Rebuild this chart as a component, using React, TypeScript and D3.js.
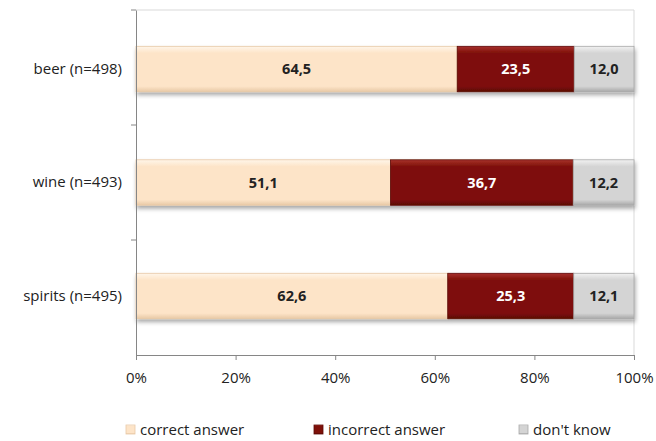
import { useRef, useEffect } from 'react'
import * as d3 from 'd3'

const categories = ['beer (n=498)', 'wine (n=493)', 'spirits (n=495)']
const seriesNames = ['correct answer', 'incorrect answer', "don't know"]
const correct = [64.5, 51.1, 62.6]
const incorrect = [23.5, 36.7, 25.3]
const dontKnow = [12.0, 12.2, 12.1]
const ticks = [0, 20, 40, 60, 80, 100]

const colors = ['#FDE4C8', '#7E1009', '#D4D4D4']
const lightC = ['#FFF6EA', '#A8322B', '#F2F2F2']
const darkC = ['#E8C9A6', '#5C0A05', '#A8A8A8']
const textColors = ['#222', '#fff', '#222']

const App = () => {
  const chartRef = useRef<SVGSVGElement>(null)

  useEffect(() => {
    drawChart()
  }, [])

  const drawChart = () => {
    const svg = d3.select(chartRef.current)
    svg.selectAll('*').remove()
    const font = "'Open Sans', 'Liberation Sans', sans-serif"
    const left = 136, right = 634, top = 10, bottom = 355

    const x = d3.scaleLinear().domain([0, 100]).range([left, right])
    const y = d3.scaleBand().domain(categories).range([top, bottom]).paddingInner(0.6).paddingOuter(0.32)

    const defs = svg.append('defs')
    colors.forEach((c, i) => {
      const g = defs.append('linearGradient').attr('id', `g${i}`).attr('x1', 0).attr('x2', 0).attr('y1', 0).attr('y2', 1)
      g.append('stop').attr('offset', '0%').attr('stop-color', lightC[i])
      g.append('stop').attr('offset', '15%').attr('stop-color', c)
      g.append('stop').attr('offset', '88%').attr('stop-color', c)
      g.append('stop').attr('offset', '100%').attr('stop-color', darkC[i])
    })
    const sh = defs.append('filter').attr('id', 'sh').attr('x', '-5%').attr('y', '-20%').attr('width', '110%').attr('height', '160%')
    sh.append('feDropShadow').attr('dx', 1).attr('dy', 3).attr('stdDeviation', 2).attr('flood-color', '#000').attr('flood-opacity', 0.35)

    // plot area border
    svg.append('path')
      .attr('d', `M${left},${top}H${right}V${bottom}`)
      .attr('fill', 'none').attr('stroke', '#d9d9d9')

    const rows = categories.map((c, i) => ({ cat: c, vals: [correct[i], incorrect[i], dontKnow[i]] }))

    rows.forEach((r) => {
      let acc = 0
      const g = svg.append('g').attr('filter', 'url(#sh)')
      const segs = r.vals.map((v, k) => {
        const s = { k, x0: acc, x1: acc + v, v }
        acc += v
        return s
      })
      segs.forEach((s) => {
        g.append('rect')
          .attr('x', x(s.x0)).attr('y', y(r.cat)!)
          .attr('width', x(s.x1) - x(s.x0)).attr('height', y.bandwidth())
          .attr('fill', `url(#g${s.k})`)
          .attr('stroke', darkC[s.k]).attr('stroke-width', 0.8)
      })
      segs.forEach((s) => {
        svg.append('text')
          .attr('x', (x(s.x0) + x(s.x1)) / 2)
          .attr('y', y(r.cat)! + y.bandwidth() / 2)
          .attr('dy', '0.35em')
          .attr('text-anchor', 'middle')
          .attr('font-family', font).attr('font-size', 14.5).attr('font-weight', 'bold')
          .attr('fill', textColors[s.k])
          .text(d3.format('.1f')(s.v).replace('.', ','))
      })
    })

    // y axis
    svg.append('g')
      .attr('transform', `translate(${left},0)`)
      .call(d3.axisLeft(y).tickSize(0).tickPadding(14))
      .call((g) => g.select('.domain').attr('stroke', '#868686'))
      .selectAll('text').attr('font-family', font).attr('font-size', 15).attr('fill', '#222')
    const bounds = [top, top + (bottom - top) / 3, top + 2 * (bottom - top) / 3]
    svg.selectAll('.ytick').data(bounds).enter().append('line')
      .attr('x1', left - 5).attr('x2', left).attr('y1', (d) => d).attr('y2', (d) => d)
      .attr('stroke', '#868686')

    // x axis
    svg.append('g')
      .attr('transform', `translate(0,${bottom})`)
      .call(d3.axisBottom(x).tickValues(ticks).tickSize(5).tickPadding(12).tickFormat((d) => `${d}%`))
      .call((g) => g.selectAll('path,line').attr('stroke', '#868686'))
      .selectAll('text').attr('font-family', font).attr('font-size', 15).attr('fill', '#222')

    // legend
    const legendX = [126, 314, 519]
    seriesNames.forEach((n, i) => {
      svg.append('rect').attr('x', legendX[i]).attr('y', 425).attr('width', 9).attr('height', 9)
        .attr('fill', `url(#g${i})`).attr('stroke', darkC[i]).attr('stroke-width', 0.8)
      svg.append('text').attr('x', legendX[i] + 14).attr('y', 430).attr('dy', '0.35em')
        .attr('font-family', font).attr('font-size', 15).attr('fill', '#222').text(n)
    })
  }

  return (
    <svg ref={chartRef} width={656} height={441} style={{ position: 'absolute', left: 0, top: 0 }}></svg>
  )
}

export default App
